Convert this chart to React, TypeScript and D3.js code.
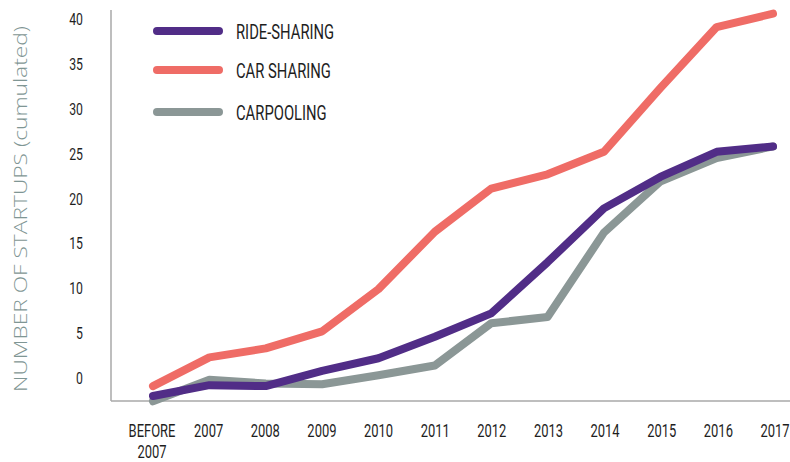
import React from "react";
import * as d3 from "d3";

const categories = ["BEFORE 2007", "2007", "2008", "2009", "2010", "2011", "2012", "2013", "2014", "2015", "2016", "2017"];
const rideSharing = [-2.0, -0.8, -0.9, 0.8, 2.2, 4.6, 7.2, 12.9, 18.9, 22.4, 25.2, 25.8];
const carSharing = [-0.9, 2.3, 3.3, 5.2, 9.9, 16.3, 21.1, 22.7, 25.2, 32.3, 39.1, 40.6];
const carpooling = [-2.6, -0.2, -0.6, -0.7, 0.3, 1.4, 6.1, 6.8, 16.2, 21.9, 24.5, 25.8];
const yTicks = [0, 5, 10, 15, 20, 25, 30, 35, 40];
const seriesNames = ["RIDE-SHARING", "CAR SHARING", "CARPOOLING"];

const COLORS = ["#512d87", "#ef6c66", "#8b9796"];
const FONT = "Roboto, 'DejaVu Sans', sans-serif";

function NarrowText(props: {
  x: number;
  y: number;
  size: number;
  sx: number;
  anchor?: "start" | "middle" | "end";
  children: React.ReactNode;
}) {
  const { x, y, size, sx, anchor = "start", children } = props;
  return (
    <g transform={`translate(${x},${y}) scale(${sx},1)`}>
      <text x={0} y={0} textAnchor={anchor} fontFamily={FONT} fontSize={size} fill="#1e1e1e">
        {children}
      </text>
    </g>
  );
}

export default function App() {
  const W = 790, H = 462;
  const x = d3.scalePoint<string>().domain(categories).range([153, 773]);
  const xl = d3.scalePoint<string>().domain(categories).range([152, 775]);
  const y = d3.scaleLinear().domain([0, 40]).range([378, 19]);
  const series = [rideSharing, carSharing, carpooling];
  const line = d3.line<number>().x((_, i) => x(categories[i]) as number).y((d) => y(d));
  const drawOrder = [2, 1, 0];
  const legendY = [31, 70, 112];

  return (
    <svg width={W} height={H} style={{ position: "absolute", left: 0, top: 0 }}>
      <rect width={W} height={H} fill="#fff" />
      <text
        transform={`translate(27,209) rotate(-90)`}
        textAnchor="middle"
        fontFamily="'Open Sans', sans-serif"
        fontWeight={300}
        fontSize={18.5}
        fill="#7f9694"
        textLength={366}
        lengthAdjust="spacingAndGlyphs"
      >
        NUMBER OF STARTUPS (cumulated)
      </text>
      <line x1={111} x2={111} y1={10} y2={401} stroke="#a9a9a9" strokeWidth={1.5} />
      <line x1={111} x2={790} y1={401} y2={401} stroke="#a9a9a9" strokeWidth={1.5} />
      {yTicks.map((t) => (
        <NarrowText key={t} x={83} y={y(t) + 6} size={17} sx={0.72} anchor="end">
          {t}
        </NarrowText>
      ))}
      {categories.map((c) => {
        const parts = c === "BEFORE 2007" ? ["BEFORE", "2007"] : [c];
        return parts.map((p, i) => (
          <NarrowText key={c + i} x={xl(c) as number} y={437 + i * 21} size={18} sx={0.72} anchor="middle">
            {p}
          </NarrowText>
        ));
      })}
      {drawOrder.map((i) => (
        <path
          key={i}
          d={line(series[i]) || ""}
          fill="none"
          stroke={COLORS[i]}
          strokeWidth={8}
          strokeLinecap="round"
          strokeLinejoin="round"
        />
      ))}
      {seriesNames.map((n, i) => (
        <g key={n}>
          <line x1={157} x2={219} y1={legendY[i]} y2={legendY[i]} stroke={COLORS[i]} strokeWidth={8} strokeLinecap="round" />
          <NarrowText x={236} y={legendY[i] + 7.5} size={20} sx={0.74}>
            {n}
          </NarrowText>
        </g>
      ))}
    </svg>
  );
}
